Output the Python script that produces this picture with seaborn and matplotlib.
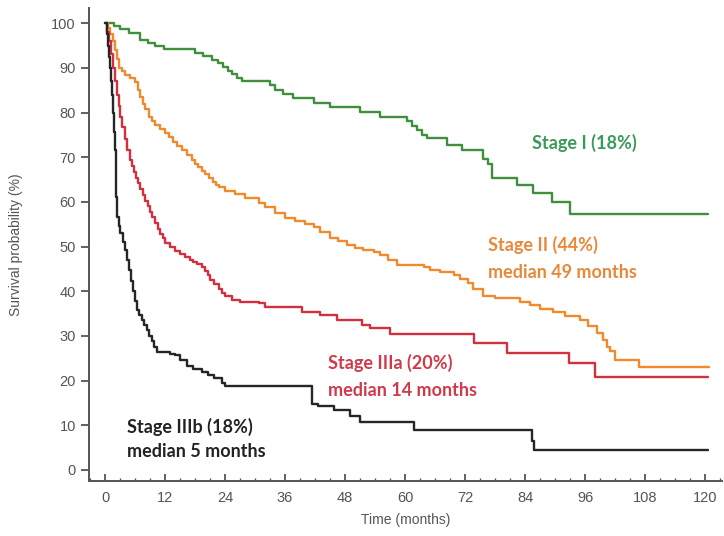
import pandas as pd
import matplotlib
matplotlib.use("Agg")
import matplotlib.pyplot as plt
from matplotlib.ticker import MultipleLocator
import seaborn as sns

# Kaplan-Meier step points (time in months, survival %)
stage1_t = [0, 1.7, 3, 4.7, 7, 8.5, 10, 11.7, 18, 19.5, 21.3, 22.5, 23.5, 24.5, 25.3, 26.3, 27.3,
            33, 34, 35.5, 37.6, 41.7, 45, 51, 55, 60.3, 61.3, 62.3, 63.3, 64.3, 68.3, 71.3,
            75.6, 76.5, 77.4, 82.4, 85.6, 89.4, 93, 120.5]
stage1_s = [100, 99.4, 98.8, 97.8, 96.3, 95.6, 95, 94.2, 93.4, 92.6, 91.8, 91, 90.3, 89.4, 88.6, 87.8, 87.1,
            86.1, 85, 84.2, 83.2, 82.2, 81.2, 80.2, 79.1, 78, 77, 76, 75, 74.3, 72.7, 71.6,
            69.5, 68.5, 65.3, 63.8, 62, 60, 57.3, 57.3]

stage2_t = [0, 0.5, 1, 1.5, 2, 2.3, 2.7, 3.3, 4, 5, 6, 6.5, 7, 7.5, 8, 8.7, 9.3, 10, 11, 12, 12.7, 13.5,
            14.3, 15.3, 16.3, 17.3, 18, 18.5, 19.3, 20, 20.7, 21.5, 22.2, 22.7, 24, 26, 28,
            30.7, 32, 34, 36, 38, 40, 41.7, 43, 45, 46.5, 48.3, 50, 51.5, 53.7, 55, 56.5, 58.3, 63.7,
            65, 67, 69.7, 71, 72.5, 73.5, 75.6, 78, 83, 85, 87, 89.6, 92, 95, 96.5, 98.3, 99.5, 100.3,
            101, 102, 106.8, 120.8]
stage2_s = [100, 99, 97.5, 96, 94, 92, 90, 89.2, 88.5, 87.8, 86.8, 85, 83.5, 82, 80.8, 79, 78, 77.3,
            76.3, 75.4, 74.5, 73.5, 72.5, 71.6, 70.5, 69.4, 68.5, 67.8, 67, 66.2, 65.3, 64.5, 63.8,
            63.3, 62.4, 61.8, 60.8, 59.7, 58.8, 57.5, 56.4, 55.8, 55, 54.4, 53.2, 52, 51.2, 50.3, 49.6,
            49.2, 48.8, 48, 47, 45.9, 45.4, 44.8, 44.2, 43.6, 42.8, 41.8, 40.5, 39, 38.4, 37.6, 36.8,
            36, 35.3, 34.5, 33.5, 32.3, 30.6, 29, 27.5, 26.5, 24.7, 23, 23]

stage3a_t = [0, 0.4, 0.8, 1.2, 1.6, 2, 2.4, 2.7, 3, 3.4, 3.9, 4.4, 5, 5.4, 5.8, 6.2, 6.6, 7, 7.5, 8,
             8.5, 9, 9.4, 10, 10.5, 11, 11.5, 12, 13, 14, 15, 16, 17, 17.5, 18.3, 19.3, 20, 20.5,
             21, 21.7, 22.7, 23.3, 24, 25.3, 27, 30.7, 32, 39.3, 43, 46.3, 51.3, 53, 57, 73.8, 80.4,
             92.8, 98, 120.5]
stage3a_s = [100, 98, 96, 93, 90, 87, 84, 81.5, 79, 76.7, 74, 71.6, 69.4, 68, 66.6, 65.4, 64.2, 62.8,
             61.5, 60.2, 59, 57.8, 56.6, 55.3, 54, 52.8, 51.8, 50.8, 50, 49, 48.3, 47.7, 47, 46.5, 46,
             45.4, 44.6, 43.6, 42.6, 41.5, 40.5, 39.7, 39, 38, 37.6, 37.3, 36.5, 35.4, 34.7, 33.6,
             32.4, 31.8, 30.4, 28.4, 26.2, 23.9, 20.8, 20.8]

stage3b_t = [0, 0.3, 0.6, 0.8, 1, 1.2, 1.4, 1.6, 1.8, 2, 2.1, 2.2, 2.4, 2.7, 3, 3.5, 4, 4.3, 4.7,
             5.1, 5.5, 5.9, 6.3, 6.8, 7.3, 7.8, 8.3, 8.8, 9.3, 9.8, 10.3, 13, 14, 15, 16.3, 17.5,
             19.3, 20.5, 21.7, 23.4, 24, 41.3, 42.5, 45.7, 49, 51, 61.7, 85.3, 85.8, 120.5]
stage3b_s = [100, 97.5, 95, 92.5, 90, 87, 84, 80, 75.6, 71.6, 66, 61, 56.6, 54.7, 53, 51, 49.2, 47,
             44.7, 42.3, 40, 37.8, 35.8, 34.6, 33.5, 32.4, 31.3, 30, 28.8, 27.5, 26.3, 25.9, 25.6,
             24.5, 23.3, 22.5, 22, 21.2, 20.6, 19.4, 18.8, 14.8, 14.2, 13.5, 12, 10.8, 9, 6.5, 4.5, 4.5]

stages = ["Stage I", "Stage II", "Stage IIIa", "Stage IIIb"]
line_colors = {"Stage I": "#3f8f3f", "Stage II": "#f08a2c", "Stage IIIa": "#d2303f", "Stage IIIb": "#262626"}

df = pd.concat([
    pd.DataFrame({"time": t, "surv": s, "stage": name})
    for name, t, s in [("Stage I", stage1_t, stage1_s), ("Stage II", stage2_t, stage2_s),
                       ("Stage IIIa", stage3a_t, stage3a_s), ("Stage IIIb", stage3b_t, stage3b_s)]
], ignore_index=True)

sns.set_style("white")
plt.rcParams["font.family"] = ["Liberation Sans", "DejaVu Sans"]

fig = plt.figure(figsize=(7.24, 5.36), dpi=100)
ax = fig.add_axes([89 / 724, 55 / 536, 633 / 724, 473 / 536])

sns.lineplot(data=df, x="time", y="surv", hue="stage", hue_order=stages, palette=line_colors,
             drawstyle="steps-post", estimator=None, sort=False, linewidth=1.7, legend=False, ax=ax)

ax.set_xlim(-3.2, 123.4)
ax.set_ylim(-2.5, 103.4)
ax.set_xticks(range(0, 121, 12))
ax.set_yticks(range(0, 101, 10))
ax.xaxis.set_minor_locator(MultipleLocator(3))

for side in ["top", "right"]:
    ax.spines[side].set_visible(False)
for side in ["left", "bottom"]:
    ax.spines[side].set_color("#555555")
    ax.spines[side].set_linewidth(1.4)

ax.tick_params(axis="y", direction="out", length=6, width=1.3, color="#555555",
               labelsize=10.5, labelcolor="#555555", left=True)
ax.tick_params(axis="x", which="major", direction="in", length=5, width=1.3, color="#555555",
               labelsize=10.5, labelcolor="#555555", bottom=True, pad=7)
ax.tick_params(axis="x", which="minor", direction="in", length=2.5, width=1.0, color="#555555", bottom=True)

ax.set_xlabel("Time (months)", fontsize=10, color="#555555", labelpad=6)
ax.set_ylabel("Survival probability (%)", fontsize=10, color="#555555", labelpad=20)

label_font = ["Lato", "DejaVu Sans"]
annotations = [
    (85.4, 73.2, "Stage I (18%)", "#3a9a5a"),
    (76.6, 50.3, "Stage II (44%)", "#e8893a"),
    (76.6, 44.1, "median 49 months", "#e8893a"),
    (44.6, 23.9, "Stage IIIa (20%)", "#d03a4a"),
    (44.6, 17.7, "median 14 months", "#d03a4a"),
    (4.4, 9.6, "Stage IIIb (18%)", "#222222"),
    (4.4, 4.0, "median 5 months", "#222222"),
]
for x, y, txt, c in annotations:
    ax.text(x, y, txt, color=c, fontsize=13, fontweight="bold", family=label_font,
            ha="left", va="center")

fig.savefig("out.png", dpi=100)
